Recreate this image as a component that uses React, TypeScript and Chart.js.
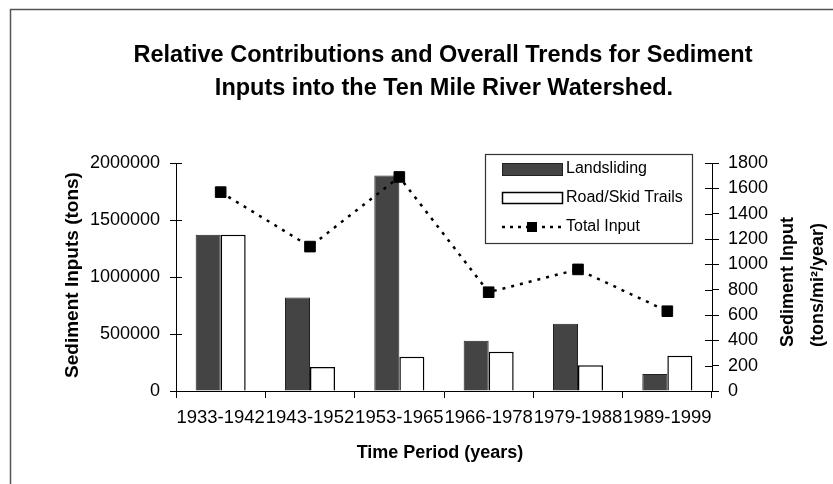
import { useEffect, useRef } from 'react';
import { Chart, registerables } from 'chart.js';

Chart.register(...registerables);

const FONT = '"Liberation Sans", Arial, Helvetica, sans-serif';

const titleLines = [
  'Relative Contributions and Overall Trends for Sediment',
  'Inputs into the Ten Mile River Watershed.',
];
const categories = ['1933-1942', '1943-1952', '1953-1965', '1966-1978', '1979-1988', '1989-1999'];
const landsliding = [1370000, 820000, 1890000, 440000, 590000, 150000];
const roadSkidTrails = [1370000, 210000, 300000, 345000, 225000, 310000];
const totalInput = [1570, 1140, 1690, 780, 960, 630];
const seriesNames = ['Landsliding', 'Road/Skid Trails', 'Total Input'];
const leftAxisTitle = 'Sediment Inputs (tons)';
const rightAxisTitle = ['Sediment Input', '(tons/mi\u00B2/year)'];
const xAxisTitle = 'Time Period (years)';

const DARK = '#444444';

const decorPlugin = {
  id: 'decor',
  afterDraw(chart: any) {
    const ctx: CanvasRenderingContext2D = chart.ctx;
    const ca = chart.chartArea;
    ctx.save();

    // outer frame (top and left edges)
    ctx.strokeStyle = '#555';
    ctx.lineWidth = 1.5;
    ctx.beginPath();
    ctx.moveTo(10.5, 484);
    ctx.lineTo(10.5, 9.5);
    ctx.lineTo(833, 9.5);
    ctx.stroke();

    // title
    ctx.fillStyle = '#000';
    ctx.textAlign = 'center';
    ctx.textBaseline = 'alphabetic';
    ctx.font = `bold 23.5px ${FONT}`;
    ctx.fillText(titleLines[0], 443, 62);
    ctx.fillText(titleLines[1], 444, 95);

    // x axis title
    ctx.font = `bold 18px ${FONT}`;
    ctx.fillText(xAxisTitle, 440, 458);

    // left axis title
    ctx.save();
    ctx.translate(73, 275);
    ctx.rotate(-Math.PI / 2);
    ctx.textAlign = 'center';
    ctx.textBaseline = 'middle';
    ctx.font = `bold 19px ${FONT}`;
    ctx.fillText(leftAxisTitle, 0, 0);
    ctx.restore();

    // right axis title (two lines)
    ctx.font = `bold 18px ${FONT}`;
    [788, 818].forEach((x, i) => {
      ctx.save();
      ctx.translate(x, 347);
      ctx.rotate(-Math.PI / 2);
      ctx.textAlign = 'left';
      ctx.textBaseline = 'middle';
      ctx.fillText(rightAxisTitle[i], 0, 0);
      ctx.restore();
    });

    // inward tick marks on both value axes
    ctx.strokeStyle = '#000';
    ctx.lineWidth = 1;
    const yS = chart.scales.y;
    const y1S = chart.scales.y1;
    yS.ticks.forEach((t: any) => {
      const p = Math.round(yS.getPixelForValue(t.value)) + 0.5;
      ctx.beginPath();
      ctx.moveTo(ca.left, p);
      ctx.lineTo(ca.left + 6, p);
      ctx.stroke();
    });
    y1S.ticks.forEach((t: any) => {
      const p = Math.round(y1S.getPixelForValue(t.value)) + 0.5;
      ctx.beginPath();
      ctx.moveTo(ca.right - 7, p);
      ctx.lineTo(ca.right, p);
      ctx.stroke();
    });

    // legend
    const lx = 485, ly = 154, lw = 207, lh = 89;
    ctx.fillStyle = '#fff';
    ctx.fillRect(lx, ly, lw, lh);
    ctx.strokeStyle = '#333';
    ctx.lineWidth = 1.2;
    ctx.strokeRect(lx + 0.5, ly + 0.5, lw, lh);

    const sx = 502, sw = 60;
    // Landsliding swatch
    ctx.fillStyle = DARK;
    ctx.fillRect(sx, 163, sw, 12);
    ctx.strokeStyle = '#222';
    ctx.lineWidth = 1;
    ctx.strokeRect(sx + 0.5, 163.5, sw, 12);
    // Road swatch
    ctx.fillStyle = '#fff';
    ctx.fillRect(sx, 192, sw, 11);
    ctx.strokeStyle = '#000';
    ctx.lineWidth = 1.5;
    ctx.strokeRect(sx + 0.5, 192.5, sw, 11);
    // Total input swatch
    ctx.setLineDash([3, 5]);
    ctx.lineWidth = 2.5;
    ctx.beginPath();
    ctx.moveTo(sx, 227);
    ctx.lineTo(sx + sw, 227);
    ctx.stroke();
    ctx.setLineDash([]);
    ctx.fillStyle = '#000';
    ctx.fillRect(sx + sw / 2 - 5, 222, 10, 10);

    ctx.fillStyle = '#000';
    ctx.textAlign = 'left';
    ctx.textBaseline = 'middle';
    ctx.font = `16px ${FONT}`;
    ctx.fillText(seriesNames[0], 566, 169);
    ctx.fillText(seriesNames[1], 566, 198);
    ctx.fillText(seriesNames[2], 566, 227);

    ctx.restore();
  },
};

export default function App() {
  const ref = useRef<HTMLCanvasElement | null>(null);

  useEffect(() => {
    const canvas = ref.current;
    if (!canvas) return;
    const chart = new Chart(canvas, {
      type: 'bar',
      data: {
        labels: categories,
        datasets: [
          {
            type: 'line',
            label: seriesNames[2],
            data: totalInput,
            yAxisID: 'y1',
            borderColor: '#000',
            borderWidth: 2.5,
            borderDash: [3, 6],
            pointStyle: 'rect',
            pointRadius: 7.5,
            pointBackgroundColor: '#000',
            pointBorderColor: '#000',
            pointBorderWidth: 1,
            fill: false,
            tension: 0,
            order: 0,
          } as any,
          {
            type: 'bar',
            label: seriesNames[0],
            data: landsliding,
            yAxisID: 'y',
            backgroundColor: DARK,
            borderColor: '#222',
            borderWidth: 1,
            categoryPercentage: 0.56,
            barPercentage: 1.0,
            order: 1,
          },
          {
            type: 'bar',
            label: seriesNames[1],
            data: roadSkidTrails,
            yAxisID: 'y',
            backgroundColor: '#fff',
            borderColor: '#000',
            borderWidth: 1.5,
            categoryPercentage: 0.56,
            barPercentage: 1.0,
            order: 1,
          },
        ],
      },
      options: {
        responsive: false,
        devicePixelRatio: 1,
        animation: false,
        layout: { padding: { left: 0, right: 0, top: 163, bottom: 0 } },
        plugins: {
          legend: { display: false },
          title: { display: false },
          tooltip: { enabled: false },
        },
        scales: {
          x: {
            type: 'category',
            offset: true,
            grid: {
              display: true,
              offset: true,
              drawOnChartArea: false,
              drawTicks: true,
              tickLength: 7,
              color: '#000',
              lineWidth: 1,
            },
            border: { display: true, color: '#000', width: 1 },
            ticks: {
              color: '#000',
              font: { family: FONT, size: 18.5 },
              padding: 9,
              maxRotation: 0,
              minRotation: 0,
              autoSkip: false,
            },
            afterFit: (s: any) => {
              s.height = 93;
            },
          },
          y: {
            type: 'linear',
            position: 'left',
            min: 0,
            max: 2000000,
            grid: {
              display: true,
              drawOnChartArea: false,
              drawTicks: true,
              tickLength: 6,
              color: '#000',
            },
            border: { display: true, color: '#000', width: 1 },
            ticks: {
              stepSize: 500000,
              color: '#000',
              font: { family: FONT, size: 18 },
              padding: 10,
              callback: (v: any) => String(v),
            },
            afterFit: (s: any) => {
              s.width = 176;
            },
          },
          y1: {
            type: 'linear',
            position: 'right',
            min: 0,
            max: 1800,
            grid: {
              display: true,
              drawOnChartArea: false,
              drawTicks: true,
              tickLength: 7,
              color: '#000',
            },
            border: { display: true, color: '#000', width: 1 },
            ticks: {
              stepSize: 200,
              color: '#000',
              font: { family: FONT, size: 18 },
              padding: 9,
              callback: (v: any) => String(v),
            },
            afterFit: (s: any) => {
              s.width = 121;
            },
          },
        },
      },
      plugins: [decorPlugin],
    });
    return () => chart.destroy();
  }, []);

  return (
    <div style={{ position: 'absolute', left: 0, top: 0, width: 833, height: 484, background: '#fff' }}>
      <canvas ref={ref} width={833} height={484} style={{ display: 'block', width: 833, height: 484 }} />
    </div>
  );
}
